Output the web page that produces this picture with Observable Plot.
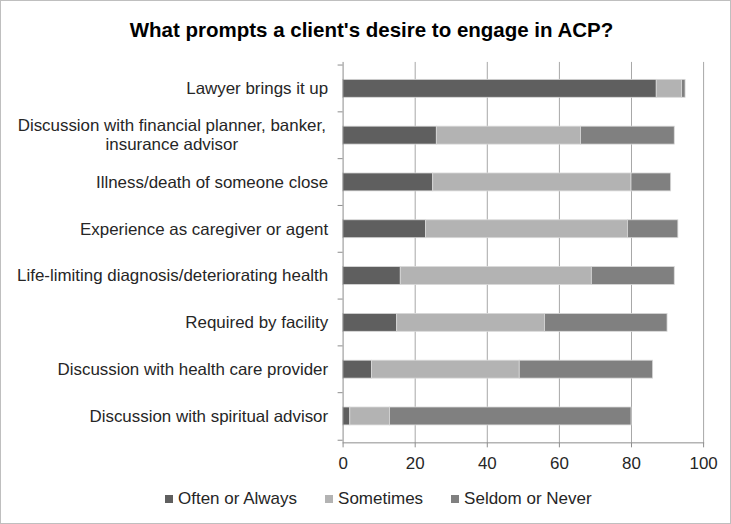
<!DOCTYPE html>
<html>
<head>
<meta charset="utf-8">
<script src="https://cdn.jsdelivr.net/npm/d3@7"></script>
<script src="https://cdn.jsdelivr.net/npm/@observablehq/plot@0.6"></script>
<style>
  html, body { margin: 0; padding: 0; background: #fff; }
  #chart { position: relative; width: 729px; height: 522px; border: 1px solid #bfbfbf; background: #fff; font-family: "Liberation Sans", Arial, sans-serif; overflow: hidden; }
  #title { position: absolute; left: 6px; width: 729px; top: 16px; text-align: center; font-weight: bold; font-size: 20.5px; color: #000; line-height: 26px; }
  #plot { position: absolute; left: -1px; top: 44px; }
  #legend { position: absolute; top: 488px; left: 164px; font-size: 17px; color: #262626; white-space: nowrap; line-height: 20px; }
  #legend span.item { display: inline-block; margin-right: 28px; }
  #legend span.sw { display: inline-block; width: 8px; height: 8px; margin-right: 5px; vertical-align: 1px; }
</style>
</head>
<body>
<div id="chart">
  <div id="title"></div>
  <div id="plot"></div>
  <div id="legend"></div>
</div>
<script>
const titleText = "What prompts a client's desire to engage in ACP?";
const categories = [
  "Lawyer brings it up",
  "Discussion with financial planner, banker, insurance advisor",
  "Illness/death of someone close",
  "Experience as caregiver or agent",
  "Life-limiting diagnosis/deteriorating health",
  "Required by facility",
  "Discussion with health care provider",
  "Discussion with spiritual advisor"
];
const seriesNames = ["Often or Always", "Sometimes", "Seldom or Never"];
const often     = [87, 26, 25, 23, 16, 15,  8,  2];
const sometimes = [ 7, 40, 55, 56, 53, 41, 41, 11];
const seldom    = [ 1, 26, 11, 14, 23, 34, 37, 67];
const xTicks = [0, 20, 40, 60, 80, 100];
const seriesColors = ["#5f5f5f", "#b3b3b3", "#808080"];

const longLabel = categories[1];
const longLabelLines = "Discussion with financial planner, banker,\ninsurance advisor";

const rows = [];
categories.forEach((c, i) => {
  rows.push({category: c, series: seriesNames[0], value: often[i]});
  rows.push({category: c, series: seriesNames[1], value: sometimes[i]});
  rows.push({category: c, series: seriesNames[2], value: seldom[i]});
});

document.getElementById("title").textContent = titleText;

const W = 733, H = 436;
const mTop = 17, mBottom = 37, mLeft = 344, mRight = 27;
const step = (H - mTop - mBottom) / categories.length;

const chart = Plot.plot({
  width: W,
  height: H,
  marginTop: mTop,
  marginBottom: mBottom,
  marginLeft: mLeft,
  marginRight: mRight,
  style: {fontFamily: "'Liberation Sans', Arial, sans-serif", fontSize: "17px", color: "#262626", background: "transparent"},
  x: {domain: [0, 100]},
  y: {domain: categories, padding: 0},
  color: {domain: seriesNames, range: seriesColors},
  marks: [
    Plot.gridX(xTicks.slice(1), {stroke: "#a6a6a6", strokeOpacity: 1}),
    Plot.barX(rows, Plot.stackX({x: "value", y: "category", fill: "series", insetTop: 14.5, insetBottom: 14.5, stroke: "#d9d9d9", strokeWidth: 0.8})),
    Plot.ruleX([0], {stroke: "#8c8c8c"}),
    Plot.frame({anchor: "bottom", stroke: "#8c8c8c"}),
    Plot.axisX(xTicks, {anchor: "bottom", tickSize: 5, tickPadding: 9, stroke: "#8c8c8c", fill: "#262626", fontSize: 17, label: null}),
    Plot.axisY({anchor: "left", tickSize: 5, stroke: "#8c8c8c", tickFormat: null, dy: -step / 2, label: null}),
    Plot.axisY([categories[categories.length - 1]], {anchor: "left", tickSize: 5, stroke: "#8c8c8c", tickFormat: null, dy: step / 2, label: null}),
    Plot.axisY(categories.filter(c => c !== longLabel), {anchor: "left", tickSize: 0, tickPadding: 15, fill: "#262626", fontSize: 17, label: null}),
    Plot.text([longLabel], {y: d => d, frameAnchor: "left", dx: -172, dy: -1, textAnchor: "middle", text: () => longLabelLines, lineHeight: 1.12, fill: "#262626", fontSize: 17})
  ]
});
document.getElementById("plot").appendChild(chart);

const legend = document.getElementById("legend");
seriesNames.forEach((s, i) => {
  const item = document.createElement("span");
  item.className = "item";
  const sw = document.createElement("span");
  sw.className = "sw";
  sw.style.background = seriesColors[i];
  item.appendChild(sw);
  item.appendChild(document.createTextNode(s));
  legend.appendChild(item);
});
</script>
</body>
</html>
